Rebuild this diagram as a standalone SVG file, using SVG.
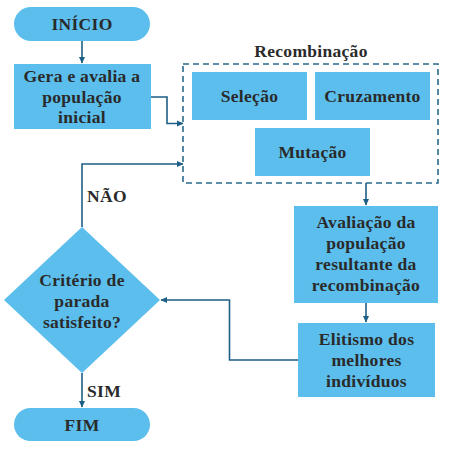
<svg xmlns="http://www.w3.org/2000/svg" width="451" height="454" viewBox="0 0 451 454">
<defs>
<marker id="ah" markerWidth="7" markerHeight="7" refX="6" refY="3.5" orient="auto" markerUnits="userSpaceOnUse">
<path d="M0,0.5 L6.5,3.5 L0,6.5 Z" fill="#1d5f86"/>
</marker>
<style>
.n{fill:#5bbeec;}
.t{font-family:"Liberation Serif","Times New Roman",serif;font-weight:bold;font-size:17.5px;letter-spacing:0.3px;fill:#2a2a2a;text-anchor:middle;}
.l{font-family:"Liberation Serif","Times New Roman",serif;font-weight:bold;font-size:17.5px;letter-spacing:0.3px;fill:#2a2a2a;}
.c{fill:none;stroke:#1d5f86;stroke-width:1.6;}
</style>
</defs>
<rect width="451" height="454" fill="#ffffff"/>
<g id="inicio"><rect class="n" x="14" y="7" width="136" height="34" rx="17"/><text class="t" x="82" y="30">INÍCIO</text></g>
<g id="gera"><rect class="n" x="14" y="64" width="137" height="65"/>
<text class="t" x="82" y="82">Gera e avalia a</text><text class="t" x="82" y="102.5">população</text><text class="t" x="82" y="123">inicial</text></g>
<g id="recombinacao"><rect x="183" y="64" width="255" height="119" fill="none" stroke="#2a6a8c" stroke-width="1.6" stroke-dasharray="6,4"/>
<text class="t" x="311" y="57">Recombinação</text></g>
<g id="selecao"><rect class="n" x="192" y="72" width="115" height="48"/><text class="t" x="249.5" y="102">Seleção</text></g>
<g id="cruzamento"><rect class="n" x="315" y="72" width="115" height="48"/><text class="t" x="372.5" y="102">Cruzamento</text></g>
<g id="mutacao"><rect class="n" x="255" y="128" width="115" height="48"/><text class="t" x="312.5" y="158">Mutação</text></g>
<g id="avaliacao"><rect class="n" x="294" y="206" width="144" height="97"/>
<text class="t" x="366" y="228">Avaliação da</text><text class="t" x="366" y="249">população</text><text class="t" x="366" y="270">resultante da</text><text class="t" x="366" y="291">recombinação</text></g>
<g id="elitismo"><rect class="n" x="298" y="323" width="137" height="74"/>
<text class="t" x="366.5" y="345">Elitismo dos</text><text class="t" x="366.5" y="366">melhores</text><text class="t" x="366.5" y="387">indivíduos</text></g>
<g id="criterio"><polygon class="n" points="82,227 160,300 82,373 4,300"/>
<text class="t" x="82" y="286">Critério de</text><text class="t" x="82" y="307">parada</text><text class="t" x="82" y="328">satisfeito?</text></g>
<g id="fim"><rect class="n" x="14" y="408" width="136" height="33" rx="16.5"/><text class="t" x="82" y="431">FIM</text></g>
<g id="connectors">
<path class="c" d="M82,41 V63" marker-end="url(#ah)"/>
<path class="c" d="M151,97 H167 V123.5 H183" marker-end="url(#ah)"/>
<path class="c" d="M366,183 V205" marker-end="url(#ah)"/>
<path class="c" d="M366,303 V322" marker-end="url(#ah)"/>
<path class="c" d="M298,360 H229.5 V300 H161" marker-end="url(#ah)"/>
<path class="c" d="M82,227 V164 H183" marker-end="url(#ah)"/>
<path class="c" d="M82,373 V407" marker-end="url(#ah)"/>
<text class="l" x="87" y="202">NÃO</text>
<text class="l" x="87" y="397">SIM</text>
</g>
</svg>
